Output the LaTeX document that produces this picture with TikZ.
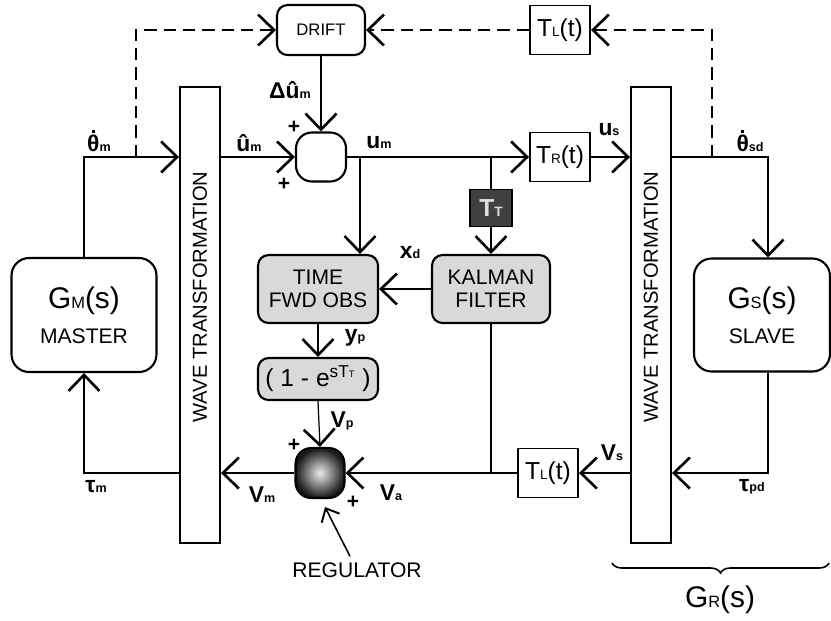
\documentclass[tikz,border=0pt]{standalone}
\usepackage{fontspec}
\setmainfont{Liberation Sans}
\usetikzlibrary{arrows.meta, positioning, decorations.pathreplacing}

\newcommand{\sbs}[1]{\scalebox{0.55}{#1}}
\newcommand{\dotup}[1]{\ooalign{#1\cr\hidewidth\raisebox{0.8em}{\rule{0.14em}{0.14em}}\hidewidth\cr}}

\begin{document}
\begin{tikzpicture}[
    x=0.02cm, y=-0.02cm,
    every node/.style={font=\fontsize{12}{13}\selectfont},
    block/.style={rectangle, rounded corners=6pt, draw=black, line width=1.2pt,
                  align=center, inner sep=1pt},
    plain/.style={rectangle, draw=black, line width=1.1pt, inner sep=1pt,
                  minimum width=1.2cm, minimum height=0.98cm, font=\fontsize{14}{15}\selectfont},
    noisy/.style={block, fill=gray!30},
    wave/.style={rectangle, draw=black, line width=1.1pt, minimum width=0.8cm, minimum height=9.12cm,
                 label={[rotate=90, xshift=0.36cm, font=\fontsize{11.5}{12}\selectfont]center:WAVE TRANSFORMATION}},
    sig/.style={font=\bfseries\fontsize{13}{14}\selectfont},
    sgn/.style={font=\bfseries\fontsize{12}{12}\selectfont},
    wire/.style={line width=0.7pt},
    arrow/.style={wire, -{Straight Barb[length=0.32cm, width=0.62cm, line width=1.5pt]}},
    ptr/.style={line width=0.9pt, -{Straight Barb[length=0.22cm, width=0.4cm, line width=1.1pt]}}
]
\useasboundingbox (0,0) rectangle (831,620);

% Blocks
\node (drift) [block, minimum width=1.76cm, minimum height=1cm, font=\fontsize{9.5}{10}\selectfont] at (321,30) {DRIFT};
\node (tltop) [plain] at (560,30) {T\sbs{L}(t)};
\node (sum) [block, rounded corners=9pt, minimum width=1cm, minimum height=0.98cm] at (321,157) {};
\node (trt) [plain] at (560,157) {T\sbs{R}(t)};
\node (wavem) [wave] at (200,315) {};
\node (waves) [wave] at (651,315) {};
\node (master) [block, rounded corners=10pt, minimum width=2.9cm, minimum height=2.28cm] at (84,315)
    {{\fontsize{17}{20}\selectfont G\sbs{M}(s)}\\[7pt] MASTER};
\node (slave) [block, rounded corners=10pt, minimum width=2.72cm, minimum height=2.26cm] at (762,315)
    {{\fontsize{17}{20}\selectfont G\sbs{S}(s)}\\[7pt] SLAVE};
\node (tt) [rectangle, draw=black, fill=black!75, line width=1pt, minimum width=0.84cm, minimum height=0.74cm,
            text=gray!25, font=\bfseries\fontsize{14}{15}\selectfont] at (491,208) {T\sbs{T}};
\node (kalman) [noisy, minimum width=2.36cm, minimum height=1.36cm] at (491,289) {KALMAN\\FILTER};
\node (tfo) [noisy, minimum width=2.4cm, minimum height=1.36cm] at (318,289) {TIME\\FWD OBS};
\node (expo) [noisy, minimum width=2.4cm, minimum height=0.84cm, font=\fontsize{14}{15}\selectfont] at (318,379)
    {( 1 - e\textsuperscript{sT\sbs{T}} )};
\node (reg) [block, rounded corners=9pt, minimum width=0.98cm, minimum height=1cm,
             inner color=gray!15, outer color=black!90] at (320,473) {};
\node (tlbot) [plain] at (548,473) {T\sbs{L}(t)};
\node (reglab) at (357,570) {REGULATOR};
\node (grlab) [font=\fontsize{17}{20}\selectfont] at (720,600) {G\sbs{R}(s)};

% Branch points
\coordinate (bu1) at (360,157);
\coordinate (bu2) at (491,157);
\coordinate (bv) at (491,473);
\coordinate (dm) at (136,157);
\coordinate (ds) at (712,157);
\coordinate (ms) at (768,157);

% Forward path
\draw [arrow] (master.north) |- (wavem.west |- sum);
\draw [arrow] (wavem.east |- sum) -- (sum.west);
\draw [arrow] (drift.south) -- (sum.north);
\draw [arrow] (sum.east) -- (trt.west);
\draw [arrow] (trt.east) -- (waves.west |- trt);
\draw [arrow] (waves.east |- trt) -| (slave.north -| ms);
\draw [arrow] (bu1) -- (bu1 |- tfo.north);
\draw [wire] (bu2) -- (tt.north);
\draw [arrow] (tt.south) -- (kalman.north);
\draw [arrow] (kalman.west) -- (tfo.east);
\draw [arrow] (tfo.south) -- (expo.north);
\draw [arrow] (expo.south) -- (reg.north);
\draw [wire] (kalman.south) -- (bv);

% Return path
\draw [arrow] (slave.south -| ms) |- (waves.east |- tlbot);
\draw [arrow] (waves.west |- tlbot) -- (tlbot.east);
\draw [arrow] (tlbot.west) -- (reg.east);
\draw [arrow] (reg.west) -- (wavem.east |- reg);
\draw [arrow] (wavem.west |- reg) -| (master.south);

% Drift estimation (dashed)
\draw [arrow, dash pattern=on 7pt off 4pt] (dm) |- (drift.west);
\draw [arrow, dash pattern=on 7pt off 4pt] (ds) |- (tltop.east);
\draw [arrow, dash pattern=on 7pt off 4pt] (tltop.west) -- (drift.east);

% Regulator pointer and brace
\draw [ptr] ([xshift=-0.14cm]reglab.north) -- ([xshift=0.1cm, yshift=-0.16cm]reg.south);
\draw [decorate, decoration={brace, amplitude=0.2cm}, line width=0.9pt] (829,563) -- (612,563);

% Signal labels
\node (lthm) [sig] at (99,143) {\dotup{θ}\sbs{m}};
\node (luhm) [sig] at (249,143) {û\sbs{m}};
\node (ldum) [sig] at (290,90) {Δû\sbs{m}};
\node (lum) [sig] at (379,143) {u\sbs{m}};
\node (lus) [sig] at (609,130) {u\sbs{s}};
\node (lthsd) [sig] at (750,143) {\dotup{θ}\sbs{sd}};
\node (lxd) [sig] at (410,253) {x\sbs{d}};
\node (lyp) [sig] at (355,338) {y\sbs{p}};
\node (lvp) [sig] at (342,421) {V\sbs{p}};
\node (lvm) [sig] at (262,495) {V\sbs{m}};
\node (lva) [sig] at (391,493) {V\sbs{a}};
\node (lvs) [sig] at (612,453) {V\sbs{s}};
\node (ltpd) [sig] at (752,487) {τ\sbs{pd}};
\node (ltm) [sig] at (96,487) {τ\sbs{m}};

% Signs
\node (sg1) [sgn] at (294,127) {+};
\node (sg2) [sgn] at (284,184) {+};
\node (sg3) [sgn] at (294,445) {+};
\node (sg4) [sgn] at (353,502) {+};

\end{tikzpicture}
\end{document}
